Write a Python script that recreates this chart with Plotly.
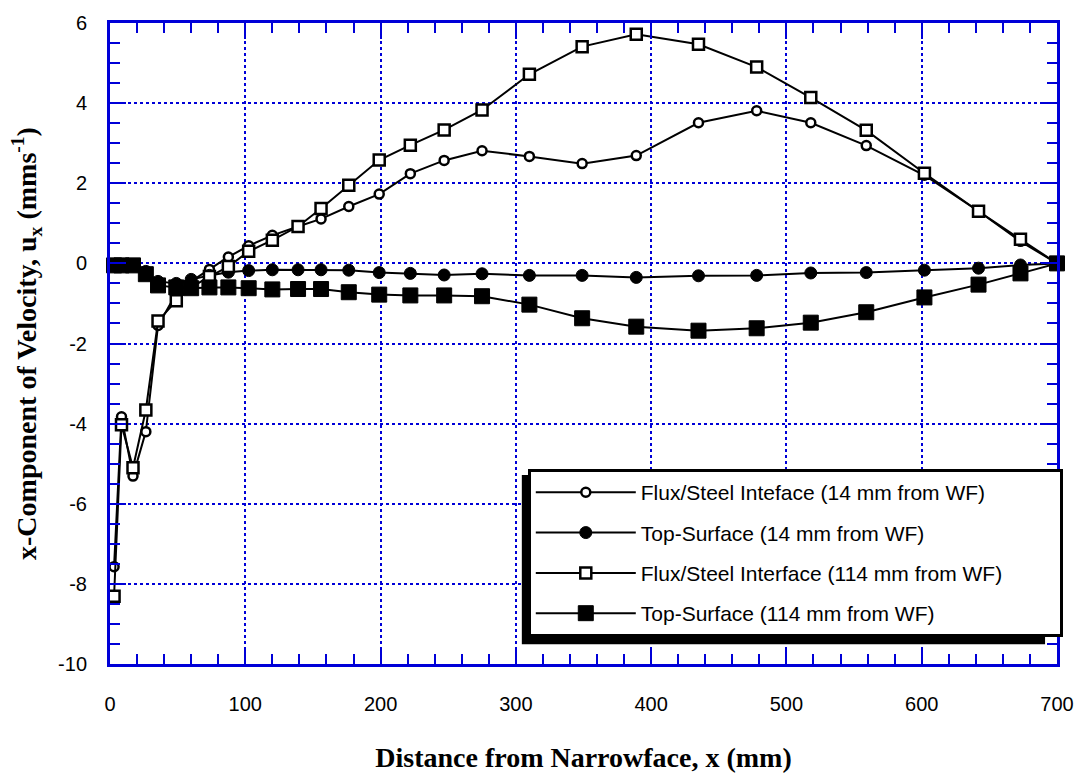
import plotly.graph_objects as go

# ---------------- data ----------------
x_pos = [3, 8.5, 17, 26.5, 35.5, 49, 60, 73.5, 87.5, 102.5, 120, 139, 156, 176.5,
         199, 222, 247, 275, 310, 349, 389, 435, 478, 518, 559, 602, 642, 673, 700]

flux_14 = [-7.57, -3.83, -5.31, -4.20, -1.55, -0.75, -0.45, -0.15, 0.16, 0.44, 0.70,
           0.92, 1.11, 1.42, 1.73, 2.24, 2.57, 2.81, 2.67, 2.49, 2.69, 3.51, 3.81,
           3.51, 2.94, 2.20, 1.30, 0.55, 0.00]

top_14 = [-0.03, -0.03, -0.05, -0.20, -0.45, -0.50, -0.40, -0.30, -0.22, -0.18, -0.16,
          -0.16, -0.16, -0.17, -0.23, -0.25, -0.29, -0.26, -0.30, -0.30, -0.35, -0.31,
          -0.30, -0.24, -0.23, -0.17, -0.12, -0.04, 0.00]

flux_114 = [-8.31, -4.03, -5.10, -3.66, -1.44, -0.93, -0.60, -0.33, -0.08, 0.30, 0.58,
            0.92, 1.37, 1.95, 2.58, 2.95, 3.33, 3.83, 4.72, 5.41, 5.72, 5.47, 4.90,
            4.14, 3.32, 2.25, 1.30, 0.60, 0.00]

top_114 = [-0.05, -0.05, -0.05, -0.27, -0.55, -0.60, -0.62, -0.60, -0.60, -0.62, -0.65,
           -0.64, -0.64, -0.72, -0.78, -0.80, -0.80, -0.82, -1.03, -1.37, -1.58, -1.68,
           -1.62, -1.48, -1.22, -0.85, -0.53, -0.25, 0.00]

names = ["Flux/Steel Inteface (14 mm from WF)",
         "Top-Surface (14 mm from WF)",
         "Flux/Steel Interface (114 mm from WF)",
         "Top-Surface (114 mm from WF)"]

y_tickvals = [-10, -8, -6, -4, -2, 0, 2, 4, 6]
y_ticktext = ["-10", "-8", "-6", "-4", "-2", "0", "2", "4", "6"]
x_tickvals = [0, 100, 200, 300, 400, 500, 600, 700]
x_ticktext = ["0", "100", "200", "300", "400", "500", "600", "700"]

x_title = "Distance from Narrowface, x (mm)"
y_title = "x-Component of Velocity, u<sub>x</sub> (mms<sup>-1</sup>)"

# ---------------- figure ----------------
BLUE = "#0000D8"
series = [
    (flux_14, "circle", 9, "white", 2.5),
    (top_14, "circle", 12, "black", 1),
    (flux_114, "square", 11, "white", 2.5),
    (top_114, "square", 15, "black", 1),
]

fig = go.Figure()
for i, (ys, sym, size, fill, lw) in enumerate(series):
    label = names[i]
    if i == 2:
        label = label + "\u00a0" * 9
    fig.add_trace(go.Scatter(
        x=x_pos, y=ys, name=label, mode="lines+markers",
        legendgroup=f"g{i}",
        line=dict(color="black", width=2),
        marker=dict(symbol=sym, size=size, color=fill,
                    line=dict(color="black", width=lw)),
        cliponaxis=False,
    ))

axis_common = dict(
    showline=True, linecolor=BLUE, linewidth=3, mirror="allticks",
    ticks="inside", ticklen=16, tickwidth=2, tickcolor=BLUE,
    showgrid=True, gridcolor=BLUE, griddash="dot", gridwidth=2,
    zeroline=False,
    tickfont=dict(family="Liberation Sans, Arial", size=20, color="black"),
)
title_font = dict(family="Liberation Serif, Times New Roman", size=28,
                  color="black", weight="bold")

fig.update_xaxes(
    range=[0, 700], tickvals=x_tickvals, ticktext=x_ticktext,
    minor=dict(dtick=20, tick0=0, ticks="inside", ticklen=10, tickwidth=2,
               tickcolor=BLUE, showgrid=False),
    ticklabelstandoff=20,
    title=dict(text=x_title, standoff=34, font=title_font),
    **axis_common,
)
fig.update_yaxes(
    range=[-10, 6], tickvals=y_tickvals, ticktext=y_ticktext,
    minor=dict(dtick=0.5, tick0=0, ticks="inside", ticklen=10, tickwidth=2,
               tickcolor=BLUE, showgrid=False),
    ticklabelstandoff=16,
    title=dict(text=y_title, standoff=14, font=title_font),
    **axis_common,
)

fig.update_layout(
    width=1086, height=781,
    margin=dict(l=110, r=24, t=17, b=116),
    paper_bgcolor="white", plot_bgcolor="white",
    showlegend=True,
    legend=dict(
        x=(530 - 110) / 952, y=(665 - 468) / 648, xanchor="left", yanchor="top",
        bgcolor="white", bordercolor="black", borderwidth=3,
        font=dict(family="Liberation Sans, Arial", size=21, color="black"),
        traceorder="grouped", tracegroupgap=10, itemwidth=100,
    ),
)

# legend drop shadow (paper coordinates)
fig.add_shape(type="rect", xref="paper", yref="paper",
              x0=(524 - 110) / 952, x1=(1050 - 110) / 952,
              y0=(665 - 645) / 648, y1=(665 - 474) / 648,
              fillcolor="black", line=dict(width=0), layer="above")

fig.write_html("out.html")
